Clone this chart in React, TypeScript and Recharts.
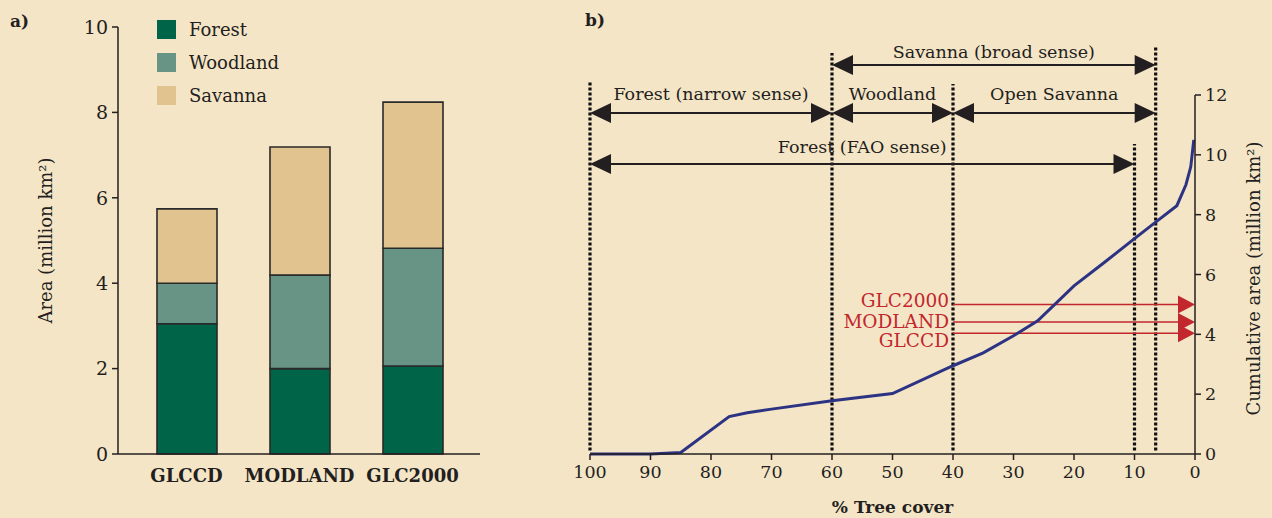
import {
  Bar,
  BarChart,
  Legend,
  Line,
  LineChart,
  ReferenceLine,
  XAxis,
  YAxis,
} from "recharts";

const BG = "#F5E5C7";
const INK = "#231f20";
const RED = "#c1272d";
const SERIF = "'DejaVu Serif', serif";

// panel a: area per land cover class, by map product
const sources = ["GLCCD", "MODLAND", "GLC2000"];
const forestArea = [3.05, 2.0, 2.06];
const woodlandArea = [0.95, 2.19, 2.76];
const savannaArea = [1.74, 3.0, 3.42];
const areaTicks = [0, 2, 4, 6, 8, 10];

// panel b: cumulative area against % tree cover
const treeCover = [100, 90, 85, 77, 74, 70, 60, 50, 40, 35, 30, 26, 20, 15, 10, 6.5, 3, 1.5, 0.7, 0.2];
const cumulativeArea = [0, 0, 0.05, 1.25, 1.38, 1.5, 1.78, 2.02, 2.95, 3.38, 3.95, 4.45, 5.62, 6.4, 7.2, 7.75, 8.3, 9.0, 9.6, 10.5];
const coverTicks = [0, 10, 20, 30, 40, 50, 60, 70, 80, 90, 100];
const cumTicks = [0, 2, 4, 6, 8, 10, 12];

// class boundaries (% tree cover) and how high their dotted lines reach
const boundaries = [100, 60, 40, 10, 6.5];
const boundaryTops = [12.43, 13.4, 12.37, 10.36, 13.6];

const classSpans = [
  { label: "Savanna (broad sense)", from: 60, to: 6.5, level: 13.0, dy: -7 },
  { label: "Forest (narrow sense)", from: 100, to: 60, level: 11.4, dy: -13 },
  { label: "Woodland", from: 60, to: 40, level: 11.4, dy: -13 },
  { label: "Open Savanna", from: 40, to: 6.5, level: 11.4, dy: -13 },
  { label: "Forest (FAO sense)", from: 100, to: 10, level: 9.69, dy: -11 },
];

const productLabels = ["GLC2000", "MODLAND", "GLCCD"];
const productArea = [5.0, 4.41, 4.04];
const productDy = [3, 6, 14];

const barSeries = [
  { key: "forest", name: "Forest", color: "#006548" },
  { key: "woodland", name: "Woodland", color: "#679485" },
  { key: "savanna", name: "Savanna", color: "#E1C38F" },
];

const barData = sources.map((s, i) => ({
  source: s,
  forest: forestArea[i],
  woodland: woodlandArea[i],
  savanna: savannaArea[i],
}));

const lineData = treeCover.map((c, i) => ({ cover: c, area: cumulativeArea[i] }));

function BarLegend() {
  return (
    <div style={{ fontFamily: SERIF, fontSize: 18, color: INK }}>
      {barSeries.map((s) => (
        <div key={s.key} style={{ display: "flex", alignItems: "center", height: 33 }}>
          <span style={{ width: 19, height: 19, background: s.color, marginRight: 13 }} />
          <span>{s.name}</span>
        </div>
      ))}
    </div>
  );
}

function DoubleArrow(props: any) {
  const { x1, x2, y1, label, dy } = props;
  const l = Math.min(x1, x2);
  const r = Math.max(x1, x2);
  const h = 21;
  const w = 10;
  return (
    <g>
      <line x1={l + 4} x2={r - 4} y1={y1} y2={y1} stroke={INK} strokeWidth={2} />
      <polygon points={`${l},${y1} ${l + h},${y1 - w} ${l + h},${y1 + w}`} fill={INK} />
      <polygon points={`${r},${y1} ${r - h},${y1 - w} ${r - h},${y1 + w}`} fill={INK} />
      <text
        x={(l + r) / 2}
        y={y1 + dy}
        textAnchor="middle"
        fontFamily={SERIF}
        fontSize={17.5}
        fill={INK}
      >
        {label}
      </text>
    </g>
  );
}

function RedArrow(props: any) {
  const { x1, x2, y1, label, dy } = props;
  const l = Math.min(x1, x2);
  const r = Math.max(x1, x2);
  return (
    <g>
      <line x1={l} x2={r - 6} y1={y1} y2={y1} stroke={RED} strokeWidth={1.5} />
      <polygon points={`${r},${y1} ${r - 17},${y1 - 9} ${r - 17},${y1 + 9}`} fill={RED} />
      <text x={l - 4} y={y1 + dy} textAnchor="end" fontFamily={SERIF} fontSize={18.5} fill={RED}>
        {label}
      </text>
    </g>
  );
}

function AreaBars() {
  return (
    <BarChart
      width={500}
      height={518}
      data={barData}
      margin={{ top: 27, right: 20, bottom: 24, left: 58 }}
      barSize={60}
    >
      <XAxis
        dataKey="source"
        height={40}
        padding={{ left: 12, right: 11 }}
        axisLine={{ stroke: INK, strokeWidth: 1.5 }}
        tickLine={false}
        tickMargin={9}
        tick={{ fill: INK, fontSize: 18, fontFamily: SERIF, fontWeight: 700 }}
      />
      <YAxis
        width={60}
        domain={[0, 10]}
        ticks={areaTicks}
        tickSize={6}
        tickMargin={4}
        axisLine={{ stroke: INK, strokeWidth: 1.5 }}
        tickLine={{ stroke: INK, strokeWidth: 1.5 }}
        tick={{ fill: INK, fontSize: 19, fontFamily: SERIF }}
        label={{
          content: (p: any) => {
            const vb = p.viewBox ?? { x: 58, y: 27, height: 427 };
            const x = vb.x - 13;
            const y = vb.y + vb.height / 2;
            return (
              <text
                x={x}
                y={y}
                transform={`rotate(-90 ${x} ${y})`}
                textAnchor="middle"
                dominantBaseline="central"
                fontFamily={SERIF}
                fontSize={18}
                fill={INK}
              >
                Area (million km²)
              </text>
            );
          },
        }}
      />
      <Legend
        layout="vertical"
        align="center"
        verticalAlign="middle"
        wrapperStyle={{ left: 157, top: 13, width: "auto", height: "auto" }}
        content={() => <BarLegend />}
      />
      {barSeries.map((s) => (
        <Bar
          key={s.key}
          dataKey={s.key}
          name={s.name}
          stackId="area"
          fill={s.color}
          stroke="#2a2a2a"
          strokeWidth={1.6}
          isAnimationActive={false}
        />
      ))}
    </BarChart>
  );
}

function CumulativeCurve() {
  return (
    <LineChart
      width={732}
      height={518}
      data={lineData}
      margin={{ top: 95, right: 17, bottom: 24, left: 50 }}
    >
      <XAxis
        dataKey="cover"
        type="number"
        domain={[0, 100]}
        ticks={coverTicks}
        reversed
        height={40}
        tickSize={6}
        tickMargin={6}
        axisLine={{ stroke: INK, strokeWidth: 1.5 }}
        tickLine={{ stroke: INK, strokeWidth: 1.5 }}
        tick={{ fill: INK, fontSize: 17.5, fontFamily: SERIF }}
        label={{
          content: (p: any) => {
            const vb = p.viewBox ?? { x: 50, y: 359, width: 605 };
            return (
              <text
                x={vb.x + vb.width / 2}
                y={vb.y + 59}
                textAnchor="middle"
                fontFamily={SERIF}
                fontSize={17}
                fontWeight={700}
                fill={INK}
              >
                % Tree cover
              </text>
            );
          },
        }}
      />
      <YAxis
        orientation="right"
        width={60}
        domain={[0, 12]}
        ticks={cumTicks}
        tickSize={6}
        tickMargin={4}
        axisLine={{ stroke: INK, strokeWidth: 1.5 }}
        tickLine={{ stroke: INK, strokeWidth: 1.5 }}
        tick={{ fill: INK, fontSize: 17.5, fontFamily: SERIF }}
        label={{
          content: (p: any) => {
            const vb = p.viewBox ?? { x: 655, y: 95, height: 359 };
            const x = vb.x + 58;
            const y = vb.y + vb.height / 2 + 4;
            return (
              <text
                x={x}
                y={y}
                transform={`rotate(-90 ${x} ${y})`}
                textAnchor="middle"
                dominantBaseline="central"
                fontFamily={SERIF}
                fontSize={18}
                fill={INK}
              >
                Cumulative area (million km²)
              </text>
            );
          },
        }}
      />
      {boundaries.map((b, i) => (
        <ReferenceLine
          key={`b${b}`}
          segment={[
            { x: b, y: 0.12 },
            { x: b, y: boundaryTops[i] },
          ]}
          ifOverflow="visible"
          stroke="#111"
          strokeWidth={3.2}
          strokeDasharray="3 2"
        />
      ))}
      {classSpans.map((s) => (
        <ReferenceLine
          key={s.label}
          segment={[
            { x: s.from, y: s.level },
            { x: s.to, y: s.level },
          ]}
          ifOverflow="visible"
          shape={(p: any) => <DoubleArrow {...p} label={s.label} dy={s.dy} />}
        />
      ))}
      {productLabels.map((name, i) => (
        <ReferenceLine
          key={name}
          segment={[
            { x: 40, y: productArea[i] },
            { x: 0, y: productArea[i] },
          ]}
          ifOverflow="visible"
          shape={(p: any) => <RedArrow {...p} label={name} dy={productDy[i]} />}
        />
      ))}
      <Line
        dataKey="area"
        type="linear"
        stroke="#2c3382"
        strokeWidth={3}
        dot={false}
        activeDot={false}
        isAnimationActive={false}
      />
    </LineChart>
  );
}

export default function App() {
  const tag = {
    position: "absolute" as const,
    fontFamily: SERIF,
    fontWeight: 700,
    fontSize: 17,
    color: INK,
  };
  return (
    <div
      style={{
        position: "absolute",
        left: 0,
        top: 0,
        width: 1272,
        height: 518,
        background: BG,
        overflow: "hidden",
      }}
    >
      <div style={{ ...tag, left: 10, top: 11 }}>a)</div>
      <div style={{ ...tag, left: 585, top: 10 }}>b)</div>
      <div style={{ position: "absolute", left: 0, top: 0 }}>
        <AreaBars />
      </div>
      <div style={{ position: "absolute", left: 540, top: 0 }}>
        <CumulativeCurve />
      </div>
    </div>
  );
}
